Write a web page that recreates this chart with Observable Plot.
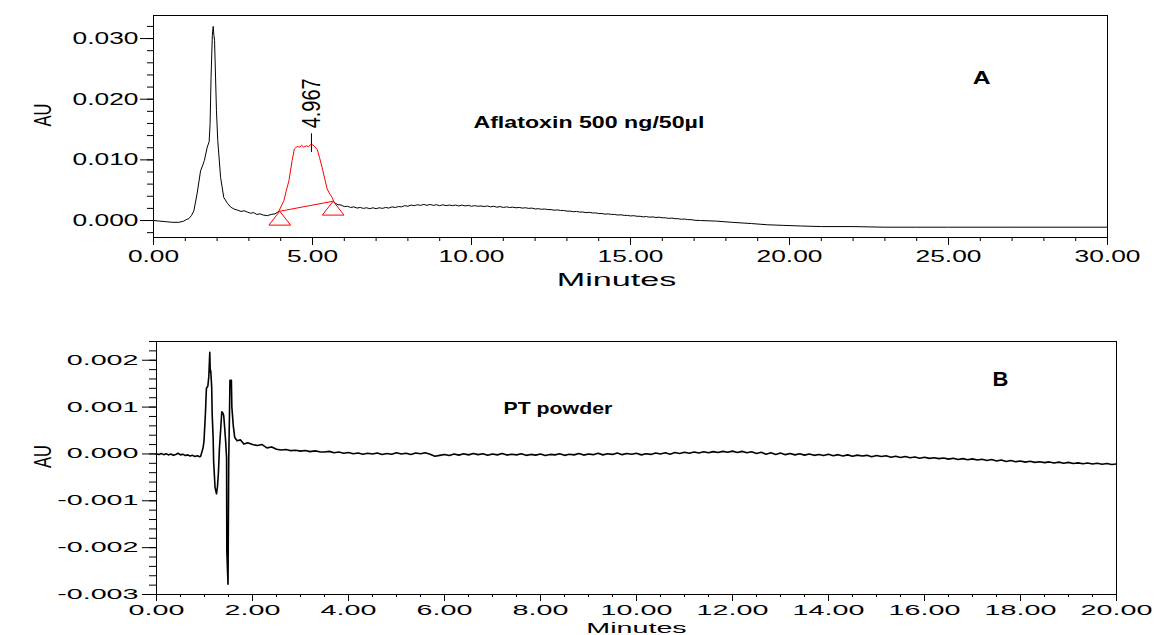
<!DOCTYPE html>
<html>
<head>
<meta charset="utf-8">
<script src="https://cdn.jsdelivr.net/npm/d3@7"></script>
<script src="https://cdn.jsdelivr.net/npm/@observablehq/plot@0.6"></script>
<style>
  html, body { margin: 0; padding: 0; background: #fff; }
  #wrap { position: relative; width: 1157px; height: 635px; overflow: hidden; background: #fff; }
  #top { position: absolute; left: 0; top: 0; }
  #bottom { position: absolute; left: 0; top: 300px; }
</style>
</head>
<body>
<div id="wrap"><div id="top"></div><div id="bottom"></div></div>
<script>
// ---------- Panel A : Aflatoxin 500 ng/50µl (minutes, AU) ----------
const topPre = [
  [0,0],[0.2,-0.0001],[0.4,-0.0002],[0.6,-0.0003],[0.8,-0.0003],[0.95,-0.0001],[1.05,0.0002],[1.11,0.0003],
  [1.19,0.0008],[1.27,0.0016],[1.37,0.0044],[1.48,0.0082],[1.54,0.0090],[1.6,0.0099],[1.69,0.0121],[1.75,0.0130],
  [1.78,0.0160],[1.81,0.0236],[1.85,0.0305],[1.877,0.0320],[1.9,0.0305],[1.92,0.0297],[1.98,0.0181],[2.02,0.0132],
  [2.11,0.0071],[2.21,0.0038],[2.33,0.0028],[2.43,0.0022],[2.53,0.0019],[2.65,0.0017],[2.75,0.0015],[2.85,0.0016],
  [2.95,0.0014],[3.05,0.0012],[3.15,0.0013],[3.25,0.0010],[3.35,0.0011],[3.45,0.0009],[3.58,0.0008],[3.7,0.0010],
  [3.82,0.0011],[3.94,0.0015]
];
const topPeak = [
  [3.94,0.0015],[4.02,0.0024],[4.10,0.0033],[4.18,0.0050],[4.26,0.0066],[4.36,0.0099],[4.43,0.0118],[4.52,0.0122],
  [4.6,0.0121],[4.66,0.0124],[4.72,0.0121],[4.8,0.0123],[4.88,0.0122],[4.96,0.0126],[5.05,0.0123],[5.15,0.0117],
  [5.22,0.0104],[5.30,0.0088],[5.38,0.0070],[5.46,0.0052],[5.54,0.0044],[5.62,0.0038],[5.67,0.0031]
];
// post-peak baseline, sampled every 0.1 min from 5.7 min, in micro-AU
const topBaseStart = 5.7, topBaseStep = 0.1;
const topBaseMicroAU = [
  2900,2600,2550,2300,2350,2150,2250,2050,2150,2000,
  2100,1950,2100,1950,2100,2000,2150,2050,2250,2150,
  2300,2250,2450,2350,2550,2450,2600,2500,2650,2500,
  2650,2500,2600,2450,2600,2450,2550,2450,2550,2400,
  2550,2400,2500,2350,2450,2350,2400,2300,2400,2250,
  2350,2200,2300,2150,2250,2150,2200,2100,2150,2050,
  2100,2000,2050,1900,1950,1850,1900,1800,1800,1700,
  1750,1650,1650,1550,1550,1450,1500,1400,1400,1300,
  1350,1250,1250,1150,1150,1050,1100,1000,1000,900,
  950,850,850,750,800,700,700,600,650,550,
  600,500,550,450,450,350,400,300,300,200,
  250,150,150,50
];
const topTail = [
  [17.2,0.0000],[17.7,-0.0001],[18.2,-0.0003],[18.8,-0.0005],[19.3,-0.0007],[19.8,-0.0008],[20.35,-0.0009],
  [21,-0.0010],[22,-0.0010],[23,-0.0011],[24,-0.0011],[25,-0.0011],[27,-0.0011],[30,-0.0011]
];
const peakRT = 4.967;
const peakLabel = "4.967";
const integStart = [3.97, 0.00153];
const integEnd = [5.65, 0.00318];
const topXMajor = [0, 5, 10, 15, 20, 25, 30];
const topXMinor = d3.range(0, 31, 1);
const topYMajor = [0, 0.01, 0.02, 0.03];
const topYMinor = d3.range(-2, 33, 2).map(d => d / 1000);
const topTitle = "Aflatoxin 500 ng/50µl";
const topLetter = "A";

// ---------- Panel B : PT powder ----------
const botStartStart = 0, botStartStep = 0.05;
const botStartMicroAU = [0,-10,10,-15,5,-20,0,-30,-10,15,-20,-5,-35,-20,-45,-30,-55,-40,-60];
const botPeaks = [ // [minutes, micro-AU]
  [0.92,-50],[0.97,130],[0.99,280],[1.02,880],[1.04,1400],[1.07,1450],[1.09,1650],[1.11,2170],[1.12,1750],
  [1.13,1780],[1.15,1420],[1.16,850],[1.18,350],[1.19,-150],[1.22,-720],[1.25,-850],[1.27,-700],[1.29,-400],
  [1.31,100],[1.34,570],[1.36,900],[1.38,880],[1.40,820],[1.42,560],[1.44,280],[1.46,-80],[1.465,-2080],
  [1.49,-2780],[1.505,-100],[1.52,800],[1.53,1570],[1.56,1570],[1.57,1000],[1.60,600],[1.63,350],[1.68,280],
  [1.75,300],[1.82,210],[1.9,240],[2.0,200],[2.1,180],[2.2,200],[2.3,130],[2.4,150]
];
const botBaseStart = 2.5, botBaseStep = 0.1;
const botBaseMicroAU = [
  100,85,95,70,80,60,75,50,65,45,
  40,55,25,40,15,30,5,20,-5,15,
  0,20,-10,10,-5,25,0,15,-10,20,
  5,25,-5,-50,-30,-10,-35,0,-25,5,
  -20,10,-15,5,-30,0,-20,10,-25,-5,
  -20,5,-30,-10,-25,0,-35,-10,-20,5,
  -30,-5,-20,10,-25,0,-15,15,-20,5,
  -10,20,-15,10,-5,15,-20,5,-10,20,
  0,25,-5,30,10,35,15,40,20,45,
  25,50,30,55,35,60,30,55,25,45,
  10,35,-5,25,-10,20,-15,10,-20,5,
  -25,0,-30,-10,-35,-5,-40,-15,-45,-20,
  -50,-25,-45,-30,-60,-35,-55,-40,-70,-50,
  -75,-55,-80,-65,-90,-70,-95,-80,-100,-85,
  -110,-90,-120,-100,-125,-105,-130,-115,-140,-120,
  -150,-130,-160,-140,-165,-150,-175,-155,-180,-165,
  -185,-170,-195,-175,-200,-180,-205,-190,-210,-195,
  -215,-200,-220,-205,-225,-215
];
const botXMajor = [0, 2, 4, 6, 8, 10, 12, 14, 16, 18, 20];
const botXMinor = d3.range(0, 41, 1).map(d => d / 2);
const botYMajor = [-0.003, -0.002, -0.001, 0, 0.001, 0.002];
const botYMinor = d3.range(-30, 25, 2).map(d => d / 10000);
const botTitle = "PT powder";
const botLetter = "B";
const xTitle = "Minutes";
const yTitle = "AU";

// ---------- build series ----------
const pairs = a => a.map(([t, v]) => ({t, v}));
const sampled = (start, step, arr, k) => arr.map((v, i) => ({t: start + i * step, v: v * k}));
const topA = pairs(topPre);
const topB = pairs(topPeak);
const topC = [{t: topPeak[topPeak.length - 1][0], v: topPeak[topPeak.length - 1][1]}]
  .concat(sampled(topBaseStart, topBaseStep, topBaseMicroAU, 1e-6), pairs(topTail));
const bot = sampled(botStartStart, botStartStep, botStartMicroAU, 1e-6)
  .concat(botPeaks.map(([t, v]) => ({t, v: v * 1e-6})), sampled(botBaseStart, botBaseStep, botBaseMicroAU, 1e-6));

const flatTriangle = {
  draw(ctx, size) {
    const r = Math.sqrt(size / Math.PI);
    const w = r * 1.45, h = r * 1.85;
    ctx.moveTo(0, 0); ctx.lineTo(w, h); ctx.lineTo(-w, h); ctx.closePath();
  }
};

const style = {fontFamily: "'Liberation Sans', Arial, sans-serif", color: "#000", background: "#fff", overflow: "visible"};

const topPlot = Plot.plot({
  width: 1157, height: 300,
  marginLeft: 153, marginRight: 50, marginTop: 15, marginBottom: 63,
  x: {domain: [0, 30]},
  y: {domain: [-0.0028, 0.0338]},
  style,
  marks: [
    Plot.frame({stroke: "#000", strokeWidth: 1}),
    Plot.axisX({ticks: topXMinor, tickSize: 4, tickFormat: () => "", label: null}),
    Plot.axisX({ticks: topXMajor, tickSize: 8, tickPadding: 4, tickFormat: d => d.toFixed(2), fontSize: 17, label: null}),
    Plot.axisY({ticks: topYMinor, tickSize: 6, tickFormat: () => "", label: null}),
    Plot.axisY({ticks: topYMajor, tickSize: 13, tickPadding: 2, tickFormat: d => d.toFixed(3), fontSize: 17, label: null}),
    Plot.line(topA, {x: "t", y: "v", stroke: "#000", strokeWidth: 1}),
    Plot.line(topC, {x: "t", y: "v", stroke: "#000", strokeWidth: 1}),
    Plot.line(topB, {x: "t", y: "v", stroke: "#ff0000", strokeWidth: 1}),
    Plot.link([{a: integStart, b: integEnd}], {x1: d => d.a[0], y1: d => d.a[1], x2: d => d.b[0], y2: d => d.b[1], stroke: "#ff0000", strokeWidth: 1}),
    Plot.dot([integStart, integEnd], {x: d => d[0], y: d => d[1], symbol: flatTriangle, r: 7.5, stroke: "#ff0000", fill: "none", strokeWidth: 1}),
    Plot.ruleX([peakRT], {y1: 0.0112, y2: 0.0143, stroke: "#000", strokeWidth: 1}),
    Plot.text([peakLabel], {x: peakRT, y: 0.0152, text: d => d, rotate: -90, textAnchor: "start", fontSize: 20}),
    Plot.text([topLetter], {x: 26.04, y: 0.02357, text: d => d, fontSize: 19, fontWeight: "bold"}),
    Plot.text([topTitle], {x: 10.06, y: 0.01615, text: d => d, textAnchor: "start", fontSize: 16, fontWeight: "bold"}),
    Plot.text([xTitle], {text: d => d, frameAnchor: "bottom", dy: 48, dx: -14, fontSize: 18}),
    Plot.text([yTitle], {text: d => d, frameAnchor: "left", dx: -110, rotate: -90, fontSize: 16.5})
  ]
});

const botPlot = Plot.plot({
  width: 1157, height: 335,
  marginLeft: 156, marginRight: 41, marginTop: 41, marginBottom: 41,
  x: {domain: [0, 20]},
  y: {domain: [-0.003, 0.0024]},
  style,
  marks: [
    Plot.frame({stroke: "#000", strokeWidth: 1}),
    Plot.axisX({ticks: botXMinor, tickSize: 3, tickFormat: () => "", label: null}),
    Plot.axisX({ticks: botXMajor, tickSize: 7, tickPadding: 4, tickFormat: d => d.toFixed(2), fontSize: 14, label: null}),
    Plot.axisY({ticks: botYMinor, tickSize: 7, tickFormat: () => "", label: null}),
    Plot.axisY({ticks: botYMajor, tickSize: 14, tickPadding: 4, tickFormat: d => d.toFixed(3), fontSize: 14, label: null}),
    Plot.line(bot, {x: "t", y: "v", stroke: "#000", strokeWidth: 1.6}),
    Plot.text([botLetter], {x: 17.58, y: 0.00158, text: d => d, fontSize: 20, fontWeight: "bold"}),
    Plot.text([botTitle], {x: 7.23, y: 0.00096, text: d => d, textAnchor: "start", fontSize: 16, fontWeight: "bold"}),
    Plot.text([xTitle], {text: d => d, frameAnchor: "bottom", dy: 38, fontSize: 15.5}),
    Plot.text([yTitle], {text: d => d, frameAnchor: "left", dx: -113, rotate: -90, fontSize: 16.5})
  ]
});

// the reference picture is horizontally stretched: widen the glyphs the same way
function stretchEl(t, sx) {
  const tr = t.getAttribute("transform");
  if (tr) {
    const m = tr.match(/^\s*(translate\([^)]*\))(.*)$/);
    if (m) t.setAttribute("transform", `${m[1]} scale(${sx},1)${m[2]}`);
    else t.setAttribute("transform", `scale(${sx},1) ${tr}`);
  } else {
    const x = +t.getAttribute("x") || 0, y = +t.getAttribute("y") || 0;
    t.setAttribute("transform", `translate(${x},${y}) scale(${sx},1) translate(${-x},${-y})`);
  }
}
function stretchAxis(svg, label, sx) {
  svg.querySelectorAll(`g[aria-label="${label}"] text`).forEach(t => stretchEl(t, sx));
}
function stretchText(svg, content, sx) {
  svg.querySelectorAll("text").forEach(t => { if (t.textContent === content) stretchEl(t, sx); });
}
stretchAxis(topPlot, "x-axis tick label", 1.55);
stretchAxis(topPlot, "y-axis tick label", 1.55);
stretchText(topPlot, peakLabel, 1.3);
stretchText(topPlot, topLetter, 1.3);
stretchText(topPlot, topTitle, 1.45);
stretchText(topPlot, xTitle, 1.9);
stretchText(topPlot, yTitle, 1.45);
stretchAxis(botPlot, "x-axis tick label", 2.05);
stretchAxis(botPlot, "y-axis tick label", 2.05);
stretchText(botPlot, botLetter, 1.1);
stretchText(botPlot, botTitle, 1.33);
stretchText(botPlot, xTitle, 1.85);
stretchText(botPlot, yTitle, 1.45);

document.getElementById("top").appendChild(topPlot);
document.getElementById("bottom").appendChild(botPlot);
</script>
</body>
</html>
